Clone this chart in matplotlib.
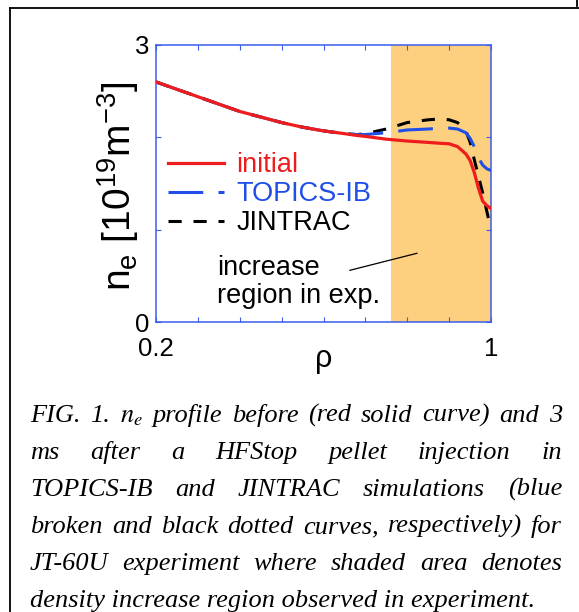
import matplotlib
matplotlib.use('Agg')
import matplotlib.pyplot as plt
import numpy as np
from matplotlib.lines import Line2D
from matplotlib.transforms import ScaledTranslation

plt.rcParams['font.family'] = ['Liberation Sans', 'DejaVu Sans']
plt.rcParams['mathtext.fontset'] = 'custom'
plt.rcParams['mathtext.rm'] = 'Liberation Sans'
plt.rcParams['mathtext.it'] = 'Liberation Sans:italic'
plt.rcParams['mathtext.bf'] = 'Liberation Sans:bold'
plt.rcParams['lines.scale_dashes'] = False

# ---------------- data ----------------
rho = [0.20, 0.25, 0.30, 0.35, 0.40, 0.45, 0.50, 0.55, 0.60, 0.65, 0.68, 0.70,
       0.75, 0.80, 0.85, 0.88, 0.90, 0.92, 0.94, 0.95, 0.96, 0.97, 0.98, 0.99, 1.00]
ne_initial = [2.60, 2.52, 2.44, 2.36, 2.28, 2.22, 2.16, 2.11, 2.07, 2.04, 2.02, 2.01,
              1.98, 1.96, 1.945, 1.935, 1.93, 1.90, 1.82, 1.75, 1.62, 1.45, 1.31, 1.26, 1.23]
ne_topics = [2.60, 2.52, 2.44, 2.36, 2.28, 2.22, 2.16, 2.11, 2.07, 2.04, 2.03, 2.03,
             2.05, 2.08, 2.09, 2.10, 2.10, 2.09, 2.05, 1.99, 1.90, 1.78, 1.70, 1.66, 1.64]
ne_jintrac = [2.60, 2.52, 2.44, 2.36, 2.28, 2.22, 2.16, 2.11, 2.07, 2.04, 2.03, 2.04,
              2.09, 2.16, 2.19, 2.20, 2.19, 2.16, 2.07, 1.95, 1.76, 1.58, 1.40, 1.20, 1.00]
series_labels = ['initial', 'TOPICS-IB', 'JINTRAC']
shade_start, shade_end = 0.76, 1.0
x_ticks = [0.2, 0.3, 0.4, 0.5, 0.6, 0.7, 0.8, 0.9, 1.0]
x_ticklabels = ['0.2', '', '', '', '', '', '', '', '1']
y_ticks = [0, 1, 2, 3]
y_ticklabels = ['0', '', '', '3']
annot_lines = ['increase', 'region in exp.']
annot_line_x = [0.663, 0.823]
annot_line_y = [0.56, 0.744]
caption_lines = [
    ['FIG.', '1.', r'$n_e$', 'profile', 'before', '(red', 'solid', 'curve)', 'and', '3'],
    ['ms', 'after', 'a', 'HFStop', 'pellet', 'injection', 'in'],
    ['TOPICS-IB', 'and', 'JINTRAC', 'simulations', '(blue'],
    ['broken', 'and', 'black', 'dotted', 'curves,', 'respectively)', 'for'],
    ['JT-60U', 'experiment', 'where', 'shaded', 'area', 'denotes'],
    ['density', 'increase', 'region', 'observed', 'in', 'experiment.'],
]

# ---------------- style ----------------
RED = '#EE1C1C'
BLUE = '#1F4FE8'
SPINE = '#3A5CF0'
SHADE = '#FCD07E'

W, H = 579, 612
fig = plt.figure(figsize=(W / 100, H / 100), dpi=100)
ax = fig.add_axes([156 / W, 1 - 322 / H, (491 - 156) / W, (322 - 45) / H])

ax.axvspan(shade_start, shade_end, color=SHADE, lw=0, zorder=0)
l_black, = ax.plot(rho, ne_jintrac, color='black', lw=2.2, dashes=(9.5, 8.5), zorder=2)
l_blue, = ax.plot(rho, ne_topics, color=BLUE, lw=2.2, dashes=(25, 11), zorder=3)
l_red, = ax.plot(rho, ne_initial, color=RED, lw=2.3, zorder=4)

ax.plot(annot_line_x, annot_line_y, color='black', lw=0.9, zorder=5)
ax.text(0.3457, 0.509, annot_lines[0], fontsize=19.5, va='baseline', ha='left')
ax.text(0.3457, 0.206, annot_lines[1], fontsize=19.5, va='baseline', ha='left')

ax.set_xlim(0.2, 1.0)
ax.set_ylim(0, 3)
ax.set_xticks(x_ticks)
ax.set_xticklabels(x_ticklabels)
ax.set_yticks(y_ticks)
ax.set_yticklabels(y_ticklabels)
ax.tick_params(direction='in', top=True, right=True, length=3.6, width=0.8,
               color=SPINE, labelsize=18.5)
ax.tick_params(axis='x', pad=11)
ax.tick_params(axis='y', pad=5)
for s in ax.spines.values():
    s.set_color(SPINE)
    s.set_linewidth(1.1)

ax.set_ylabel(r'n$_{\mathrm{e}}$ [10$^{\mathrm{19}}$m$^{\mathrm{-3}}$]', fontsize=28)
ax.yaxis.set_label_coords(-0.045, 0.49)
ax.set_xlabel('ρ', fontsize=22)
ax.xaxis.label.set_va('baseline')
ax.xaxis.set_label_coords(0.5, -(367 - 322) / 277)

leg = ax.legend([l_red, l_blue, l_black], series_labels, loc='upper left',
                bbox_to_anchor=((168 - 156) / 335, (322 - 152) / 277),
                frameon=False, fontsize=19.5, handlelength=2.05, handletextpad=0.48,
                labelspacing=0.12, borderpad=0, borderaxespad=0,
                labelcolor='linecolor')

# ---------------- border ----------------
fig.add_artist(Line2D([10 / W, 10 / W], [1 - 8 / H, 0], transform=fig.transFigure,
                      color='black', lw=1.3, solid_capstyle='projecting'))
fig.add_artist(Line2D([10 / W, 1], [1 - 8 / H, 1 - 8 / H], transform=fig.transFigure,
                      color='black', lw=1.3, solid_capstyle='projecting'))
fig.add_artist(Line2D([577 / W, 577 / W], [1, 1 - 6 / H], transform=fig.transFigure,
                      color='black', lw=1.3))

# ---------------- caption (justified) ----------------
renderer = fig.canvas.get_renderer()
cap_kw = dict(fontfamily='Liberation Serif', fontstyle='italic', fontsize=19,
              va='baseline', ha='left', math_fontfamily='stix')
x_left, x_right = 30, 562
for i, words in enumerate(caption_lines):
    yb = 422 + 37 * i
    if i == len(caption_lines) - 1:
        fig.text(x_left / W, 1 - yb / H, ' '.join(words), **cap_kw)
        continue
    texts = [fig.text(0, 1 - yb / H, w, **cap_kw) for w in words]
    widths = [t.get_window_extent(renderer).width for t in texts]
    gap = (x_right - x_left - sum(widths)) / (len(words) - 1)
    x = x_left
    for t, w in zip(texts, widths):
        t.set_x(x / W)
        x += w + gap

fig.savefig('out.png', dpi=100)
